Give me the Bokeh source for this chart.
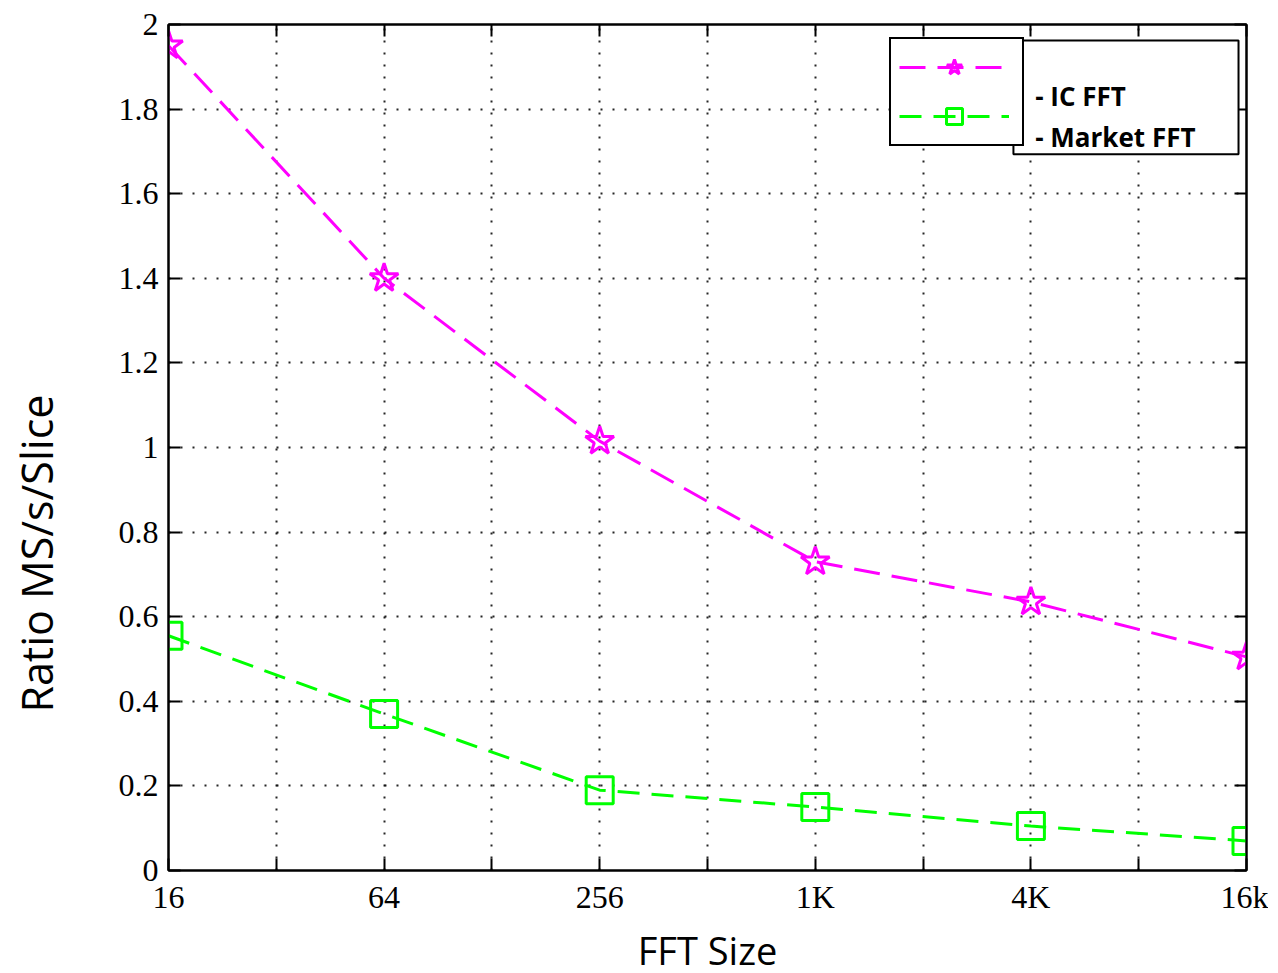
from bokeh.plotting import figure
from bokeh.models import (FixedTicker, LinearAxis, Legend, LegendItem, BoxAnnotation, Label, Range1d)
from bokeh.embed import file_html
from bokeh.resources import INLINE

# ---- data ----
fft_sizes = ["16", "64", "256", "1K", "4K", "16k"]
ic_fft = [1.95, 1.40, 1.015, 0.73, 0.635, 0.505]
market_fft = [0.555, 0.37, 0.19, 0.15, 0.105, 0.07]
y_ticks = [0, 0.2, 0.4, 0.6, 0.8, 1.0, 1.2, 1.4, 1.6, 1.8, 2.0]
y_tick_labels = ["0", "0.2", "0.4", "0.6", "0.8", "1", "1.2", "1.4", "1.6", "1.8", "2"]
series_names = ["IC FFT", "Market FFT"]
x_title = "FFT Size"
y_title = "Ratio MS/s/Slice"

xs = list(range(len(fft_sizes)))
x_ticks = [i * 0.5 for i in range(2 * (len(fft_sizes) - 1) + 1)]
x_over = {t: (fft_sizes[int(t)] if float(t).is_integer() else "") for t in x_ticks}
y_over = {t: l for t, l in zip(y_ticks, y_tick_labels)}

TICK_FONT = "Liberation Serif"
LBL_FONT = "Open Sans"

p = figure(frame_width=1078, frame_height=846, output_backend="svg", toolbar_location=None,
           x_range=Range1d(0, len(fft_sizes) - 1), y_range=Range1d(0, 2),
           min_border_left=168, min_border_top=24, min_border_right=22, min_border_bottom=20,
           background_fill_color="white", border_fill_color="white",
           outline_line_color="black", outline_line_width=2, outline_line_alpha=1)

# axes
for ax in (p.xaxis[0], p.yaxis[0]):
    ax.axis_line_width = 2
    ax.axis_line_color = "black"
    ax.major_tick_in = 12
    ax.major_tick_out = 0
    ax.major_tick_line_width = 2
    ax.major_tick_line_color = "black"
    ax.minor_tick_line_color = None
    ax.major_label_text_font = TICK_FONT
    ax.major_label_text_font_size = "32px"
    ax.major_label_text_color = "black"
    ax.axis_label_text_font = LBL_FONT
    ax.axis_label_text_font_style = "normal"
    ax.axis_label_text_color = "black"

p.xaxis[0].ticker = FixedTicker(ticks=x_ticks)
p.xaxis[0].major_label_overrides = x_over
p.xaxis[0].major_label_standoff = 8
p.xaxis[0].axis_label = x_title
p.xaxis[0].axis_label_text_font_size = "38px"
p.xaxis[0].axis_label_standoff = 6

p.yaxis[0].ticker = FixedTicker(ticks=y_ticks)
p.yaxis[0].major_label_overrides = y_over
p.yaxis[0].major_label_standoff = 10
# title padded at its upper end so that it sits lower, as in the reference
p.yaxis[0].axis_label = y_title + "\u00a0" * 19
p.yaxis[0].axis_label_text_font_size = "43px"
p.yaxis[0].axis_label_standoff = 50

for loc, tk in (("above", x_ticks), ("right", y_ticks)):
    ax = LinearAxis(ticker=FixedTicker(ticks=tk), major_label_text_font_size="10px",
                    major_label_text_color=None, major_label_standoff=0,
                    major_tick_in=12, major_tick_out=0, major_tick_line_width=2,
                    minor_tick_line_color=None, axis_line_width=2)
    p.add_layout(ax, loc)

# grids
p.xgrid[0].ticker = FixedTicker(ticks=x_ticks)
p.ygrid[0].ticker = FixedTicker(ticks=y_ticks)
for g in (p.xgrid[0], p.ygrid[0]):
    g.grid_line_color = "black"
    g.grid_line_dash = "2 10"
    g.grid_line_width = 2
    g.grid_line_alpha = 0.85

# series
MAG = "#ff00ff"
GRN = "#00ff00"
l1 = p.line(xs, ic_fft, line_color=MAG, line_width=3, line_dash="26 12")
s1 = p.scatter(xs, ic_fft, marker="star", size=30, line_color=MAG, line_width=3, fill_color=None)
l2 = p.line(xs, market_fft, line_color=GRN, line_width=3, line_dash="22 12")
s2 = p.scatter(xs, market_fft, marker="square", size=27, line_color=GRN, line_width=3, fill_color=None)

legend = Legend(items=[LegendItem(label=series_names[0], renderers=[l1, s1]),
                       LegendItem(label=series_names[1], renderers=[l2, s2])],
                location=(721, 724), margin=0, padding=8, spacing=9,
                glyph_width=110, glyph_height=40, label_standoff=0,
                label_text_font_size="1px", label_text_color=None, label_width=0,
                border_line_color="black", border_line_width=2, border_line_alpha=1,
                background_fill_color="white", background_fill_alpha=1)
p.add_layout(legend)

# overlaid text box of the legend
box = BoxAnnotation(left=3.919, right=4.963, top=1.962, bottom=1.693,
                    fill_color="white", fill_alpha=1, line_color="black", line_width=2,
                    line_alpha=1, level="overlay")
p.add_layout(box)
for ytxt, txt in ((1.832, "-  " + series_names[0]), (1.733, "- " + series_names[1])):
    p.add_layout(Label(x=4.02, y=ytxt, text=txt, text_font=LBL_FONT, text_font_size="26px",
                       text_font_style="bold", text_color="black", text_baseline="alphabetic",
                       level="overlay"))

open("out.html", "w").write(file_html(p, INLINE))
